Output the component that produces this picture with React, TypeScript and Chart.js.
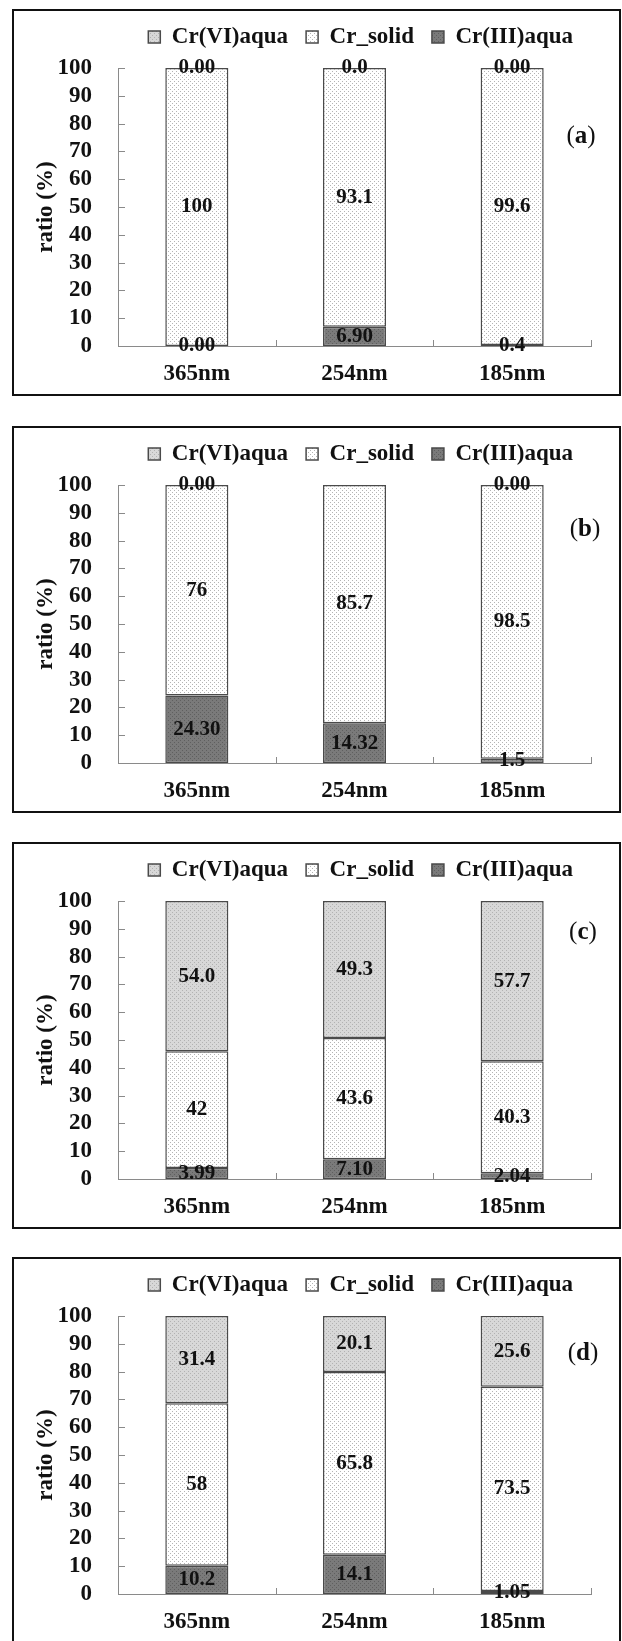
import React, { useEffect, useRef } from 'react';
import { Chart, registerables } from 'chart.js';

Chart.register(...registerables);

// ---------- data ----------
const categories = ['365nm', '254nm', '185nm'];
const seriesNames = ['Cr(VI)aqua', 'Cr_solid', 'Cr(III)aqua'];
const yMin = 0;
const yMax = 100;
const yStep = 10;

// panel (a)
const aCr6 = [0, 0, 0];
const aSolid = [100, 93.1, 99.6];
const aCr3 = [0, 6.9, 0.4];
const aCr6Text = ['0.00', '0.0', '0.00'];
const aSolidText = ['100', '93.1', '99.6'];
const aCr3Text = ['0.00', '6.90', '0.4'];

// panel (b)
const bCr6 = [0, 0, 0];
const bSolid = [75.7, 85.7, 98.5];
const bCr3 = [24.3, 14.32, 1.5];
const bCr6Text = ['0.00', '', '0.00'];
const bSolidText = ['76', '85.7', '98.5'];
const bCr3Text = ['24.30', '14.32', '1.5'];

// panel (c)
const cCr6 = [54.0, 49.3, 57.7];
const cSolid = [42, 43.6, 40.3];
const cCr3 = [3.99, 7.1, 2.04];
const cCr6Text = ['54.0', '49.3', '57.7'];
const cSolidText = ['42', '43.6', '40.3'];
const cCr3Text = ['3.99', '7.10', '2.04'];

// panel (d)
const dCr6 = [31.4, 20.1, 25.6];
const dSolid = [58.4, 65.8, 73.5];
const dCr3 = [10.2, 14.1, 1.05];
const dCr6Text = ['31.4', '20.1', '25.6'];
const dSolidText = ['58', '65.8', '73.5'];
const dCr3Text = ['10.2', '14.1', '1.05'];

const panelTags = ['a', 'b', 'c', 'd'];

// ---------- styling ----------
const FONT = "'Liberation Serif', 'Times New Roman', serif";
const TEXT = '#111111';
const AXIS = '#8a8a8a';
const BAR_BORDER = '#4a4a4a';

const panelTops = [9, 426, 842, 1257];
const panelTagPos = [
  [581, 134],
  [585, 527],
  [583, 930],
  [583, 1351],
];

function makePattern(bg: string, dot: string, dots: number[][], size: number) {
  const c = document.createElement('canvas');
  c.width = size;
  c.height = size;
  const g = c.getContext('2d')!;
  g.fillStyle = bg;
  g.fillRect(0, 0, size, size);
  g.fillStyle = dot;
  for (const [x, y] of dots) g.fillRect(x, y, 1, 1);
  return g.createPattern(c, 'repeat');
}

const legendGap = {
  id: 'legendGap',
  beforeInit(chart: any) {
    const lg = chart.legend;
    if (!lg) return;
    const orig = lg.fit;
    lg.fit = function () {
      orig.call(this);
      this.height += 9.5;
    };
  },
};

const valueLabels = {
  id: 'valueLabels',
  afterDatasetsDraw(chart: any, _args: any, opts: any) {
    const ctx = chart.ctx;
    const texts: string[][] = opts.texts || [];
    ctx.save();
    ctx.font = `bold 21px ${FONT}`;
    ctx.fillStyle = TEXT;
    ctx.textAlign = 'center';
    ctx.textBaseline = 'middle';
    chart.data.datasets.forEach((_ds: any, i: number) => {
      const meta = chart.getDatasetMeta(i);
      meta.data.forEach((el: any, j: number) => {
        const t = texts[i] && texts[i][j];
        if (!t) return;
        const p = el.getProps(['x', 'y', 'base'], true);
        ctx.fillText(t, p.x, (p.y + p.base) / 2);
      });
    });
    ctx.restore();
  },
};

const innerTicks = {
  id: 'innerTicks',
  afterDraw(chart: any) {
    const { ctx, chartArea, scales } = chart;
    const x = scales.x;
    const y = scales.y;
    ctx.save();
    ctx.strokeStyle = AXIS;
    ctx.lineWidth = 1;
    ctx.beginPath();
    y.ticks.forEach((t: any) => {
      const py = Math.round(y.getPixelForValue(t.value)) + 0.5;
      ctx.moveTo(chartArea.left, py);
      ctx.lineTo(chartArea.left + 7, py);
    });
    for (let j = 1; j <= categories.length; j++) {
      const px = Math.round(x.getPixelForValue(j - 0.5)) + 0.5;
      ctx.moveTo(px, chartArea.bottom);
      ctx.lineTo(px, chartArea.bottom - 6);
    }
    ctx.stroke();
    ctx.restore();
  },
};

type PanelData = {
  cr6: number[];
  solid: number[];
  cr3: number[];
  cr6Text: string[];
  solidText: string[];
  cr3Text: string[];
};

const panels: PanelData[] = [
  { cr6: aCr6, solid: aSolid, cr3: aCr3, cr6Text: aCr6Text, solidText: aSolidText, cr3Text: aCr3Text },
  { cr6: bCr6, solid: bSolid, cr3: bCr3, cr6Text: bCr6Text, solidText: bSolidText, cr3Text: bCr3Text },
  { cr6: cCr6, solid: cSolid, cr3: cCr3, cr6Text: cCr6Text, solidText: cSolidText, cr3Text: cCr3Text },
  { cr6: dCr6, solid: dSolid, cr3: dCr3, cr6Text: dCr6Text, solidText: dSolidText, cr3Text: dCr3Text },
];

function PanelChart({ data }: { data: PanelData }) {
  const ref = useRef<HTMLCanvasElement>(null);
  useEffect(() => {
    if (!ref.current) return;
    const patSolid = makePattern('#ffffff', '#b4b4b4', [[0, 0], [2, 2]], 4);
    const patCr6 = makePattern('#d8d8d8', '#b2b2b2', [[0, 0], [2, 2]], 4);
    const patCr3 = makePattern('#7a7a7a', '#5f5f5f', [[0, 0], [2, 2]], 4);

    const common = {
      borderColor: BAR_BORDER,
      borderWidth: 1.5,
      borderSkipped: false,
      barPercentage: 0.4,
      categoryPercentage: 1.0,
    };

    const chart = new Chart(ref.current, {
      type: 'bar',
      data: {
        labels: categories,
        datasets: [
          { label: seriesNames[2], data: data.cr3, backgroundColor: patCr3 as any, ...common },
          { label: seriesNames[1], data: data.solid, backgroundColor: patSolid as any, ...common },
          { label: seriesNames[0], data: data.cr6, backgroundColor: patCr6 as any, ...common },
        ],
      },
      options: {
        responsive: false,
        animation: false,
        devicePixelRatio: 1,
        layout: { padding: { top: 6.5, left: 0, right: 28, bottom: 0 } },
        plugins: {
          tooltip: { enabled: false },
          legend: {
            display: true,
            position: 'top',
            align: 'end',
            reverse: true,
            labels: {
              boxWidth: 12,
              boxHeight: 12,
              padding: 18,
              color: TEXT,
              font: { family: FONT, size: 23, weight: 'bold' },
            },
          },
          valueLabels: {
            texts: [data.cr3Text, data.solidText, data.cr6Text],
          },
        } as any,
        scales: {
          x: {
            stacked: true,
            grid: { display: false, drawTicks: false },
            border: { display: true, color: AXIS, width: 1 },
            ticks: {
              color: TEXT,
              padding: 14.5,
              maxRotation: 0,
              autoSkip: false,
              font: { family: FONT, size: 23, weight: 'bold' },
            },
            afterFit: (s: any) => {
              s.height = 45;
            },
          },
          y: {
            stacked: true,
            min: yMin,
            max: yMax,
            grid: { display: false, drawTicks: false },
            border: { display: true, color: AXIS, width: 1 },
            ticks: {
              stepSize: yStep,
              autoSkip: false,
              color: TEXT,
              padding: 26,
              font: { family: FONT, size: 23, weight: 'bold' },
            },
            title: {
              display: true,
              text: 'ratio (%)',
              color: TEXT,
              font: { family: FONT, size: 23, weight: 'bold' },
              padding: { top: 18, bottom: 0 },
            },
            afterFit: (s: any) => {
              s.width = 104;
            },
          },
        },
      } as any,
      plugins: [legendGap, valueLabels, innerTicks],
    });
    return () => chart.destroy();
  }, [data]);
  return <canvas ref={ref} width={605} height={390} style={{ display: 'block' }} />;
}

export default function App() {
  return (
    <div
      style={{
        position: 'absolute',
        left: 0,
        top: 0,
        width: 622,
        height: 1641,
        overflow: 'hidden',
        background: '#ffffff',
      }}
    >
      {panels.map((p, i) => (
        <React.Fragment key={i}>
          <div
            style={{
              position: 'absolute',
              left: 12,
              top: panelTops[i],
              width: 609,
              height: 387,
              border: '2px solid #111',
              boxSizing: 'border-box',
            }}
          />
          <div style={{ position: 'absolute', left: 14, top: panelTops[i] - 8 }}>
            <PanelChart data={p} />
          </div>
          <div
            style={{
              position: 'absolute',
              left: panelTagPos[i][0],
              top: panelTagPos[i][1],
              transform: 'translate(-50%, -50%)',
              fontFamily: FONT,
              fontSize: 25,
              color: TEXT,
              whiteSpace: 'nowrap',
              lineHeight: 1,
            }}
          >
            (<b>{panelTags[i]}</b>)
          </div>
        </React.Fragment>
      ))}
    </div>
  );
}
